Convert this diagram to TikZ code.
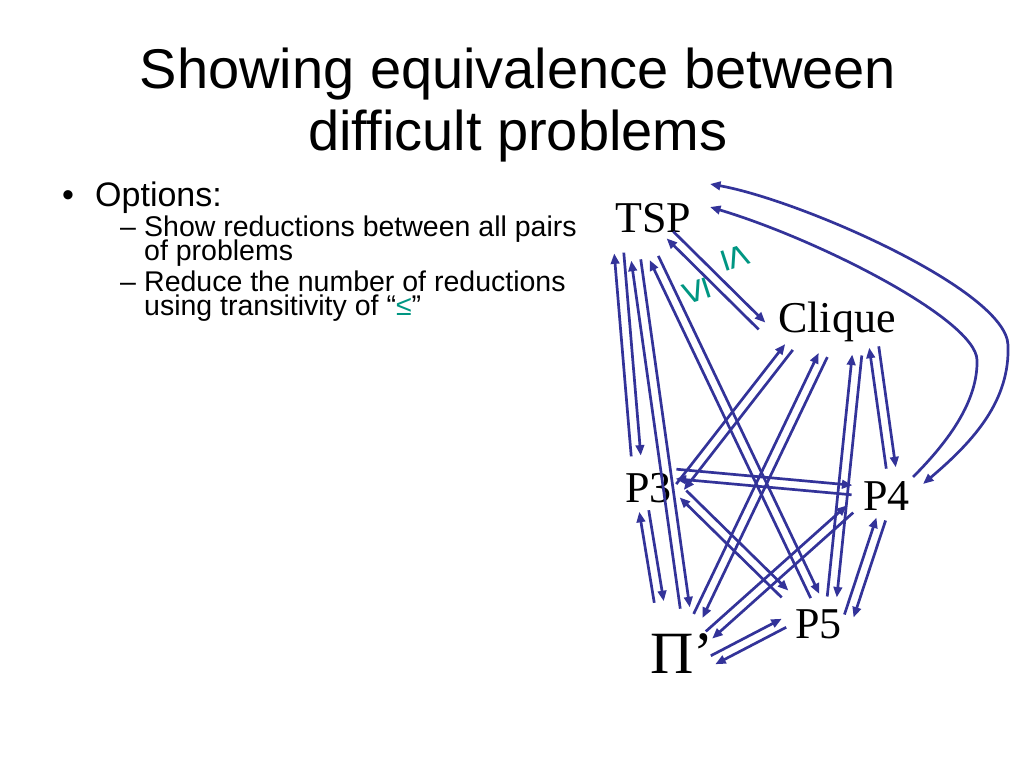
\documentclass[tikz,border=0pt]{standalone}
\usepackage{fontspec}
\setmainfont{Liberation Serif}
\newfontfamily\arial{Liberation Sans}
\usetikzlibrary{calc,arrows.meta}
\definecolor{redblue}{RGB}{51,51,153}
\definecolor{leqgreen}{RGB}{0,150,130}
\setlength{\lineskiplimit}{-20pt}
% two reductions, one each way, side by side
\newcommand{\twoway}[2]{%
  \draw[reduction] ($(#1)!4.8pt!90:(#2)$) -- ($(#2)!4.8pt!-90:(#1)$);
  \draw[reduction] ($(#2)!4.8pt!90:(#1)$) -- ($(#1)!4.8pt!-90:(#2)$);}

\begin{document}
\begin{tikzpicture}[x=1pt,y=-1pt,
    >={Triangle[length=10.5pt,width=8.5pt]},
    reduction/.style={draw=redblue, line width=2.7pt, ->},
    prob/.style={anchor=base west, inner sep=0pt, font=\fontsize{44}{44}\selectfont},
    slide/.style={anchor=base west, inner sep=0pt, align=left, font=\arial\fontsize{28.5}{23.5}\selectfont},
    leq/.style={inner sep=0pt, text=leqgreen, font=\arial\fontsize{42}{42}\selectfont}]
  \useasboundingbox (0,0) rectangle (1024,768);

  % base of a two-line node is its last line
  \node[anchor=base, inner sep=0pt, font=\arial\fontsize{56}{62}\selectfont, align=center] (title) at (518,150)
    {Showing equivalence between\\difficult problems};

  \node[slide, font=\arial\fontsize{34}{34}\selectfont] (bul) at (62,206) {•};
  \node[slide, font=\arial\fontsize{34}{34}\selectfont] (options) at (95,206) {Options:};
  \node[slide] (dash1) at (120,236) {–};
  \node[slide] (allpairs) at (144,260) {Show reductions between all pairs\\of problems};
  \node[slide] (dash2) at (120,291) {–};
  \node[slide] (transitive) at (144,315) {Reduce the number of reductions\\using transitivity of “\textcolor{leqgreen}{≤}”};

  \node[prob] (tsp) at (615,232) {TSP};
  \node[prob] (clique) at (778,332) {Clique};
  \node[prob] (p3) at (625,502) {P3};
  \node[prob] (p4) at (863,510) {P4};
  \node[prob] (p5) at (795,638) {P5};
  \node[prob, font=\fontsize{60}{60}\selectfont] (pi) at (650,673) {Π’};

  \node[leq, rotate=108] (leqlow) at (696,291) {≤};
  \node[leq, rotate=-72] (lequp) at (736,258) {≤};

  \coordinate (tsp-p3) at (619,253);    \coordinate (p3-tsp) at (636,456);
  \coordinate (tsp-pi) at (636,260);    \coordinate (pi-tsp) at (685,608);
  \coordinate (tsp-p5) at (654,258);    \coordinate (p5-tsp) at (815,596);
  \coordinate (tsp-cl) at (670,235);    \coordinate (cl-tsp) at (762,326);
  \coordinate (cl-p3) at (789,347);     \coordinate (p3-cl) at (680,487);
  \coordinate (cl-pi) at (823,355);     \coordinate (pi-cl) at (698,616);
  \coordinate (cl-p5) at (857,355);     \coordinate (p5-cl) at (832,597);
  \coordinate (cl-p4) at (874,347);     \coordinate (p4-cl) at (891,468);
  \coordinate (p3-p4) at (676,474);     \coordinate (p4-p3) at (852,490);
  \coordinate (p3-p5) at (683,494);     \coordinate (p5-p3) at (785,594);
  \coordinate (p3-pi) at (644,511);     \coordinate (pi-p3) at (659,602);
  \coordinate (p4-pi) at (850,509);     \coordinate (pi-p4) at (709,635);
  \coordinate (p4-p5) at (881,519);     \coordinate (p5-p4) at (849,616);
  \coordinate (p5-pi) at (784,623);     \coordinate (pi-p5) at (713,660);

  \foreach \a/\b in {tsp-p3/p3-tsp, tsp-pi/pi-tsp, tsp-p5/p5-tsp, tsp-cl/cl-tsp,
      cl-p3/p3-cl, cl-pi/pi-cl, cl-p5/p5-cl, cl-p4/p4-cl, p3-p4/p4-p3,
      p3-p5/p5-p3, p3-pi/pi-p3, p4-pi/pi-p4, p4-p5/p5-p4, p5-pi/pi-p5}
    \twoway{\a}{\b};

  % the long way round from P4 to TSP
  \coordinate (tsp-p4) at (710,184);    \coordinate (p4-tsp) at (923,484);
  \coordinate (tsp-p4b) at (710,207);   \coordinate (p4-tspb) at (913,477);
  \draw[reduction, <->] (p4-tsp) .. controls (975,440) and (1010,400) .. (1008,345)
    .. controls (1006,290) and (800,200) .. (tsp-p4);
  \draw[reduction] (p4-tspb) .. controls (950,440) and (978,400) .. (977,360)
    .. controls (976,320) and (820,240) .. (tsp-p4b);
\end{tikzpicture}
\end{document}
